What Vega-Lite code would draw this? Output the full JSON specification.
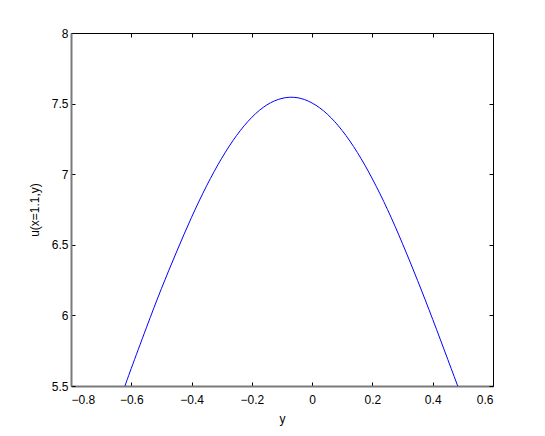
{
  "$schema": "https://vega.github.io/schema/vega-lite/v6.json",
  "width": 422,
  "height": 353,
  "autosize": {"type": "none"},
  "padding": {"left": 71, "top": 33, "right": 52, "bottom": 50},
  "background": "white",
  "config": {
    "view": {"stroke": null},
    "font": "Liberation Sans",
    "axis": {
      "grid": false,
      "labelFont": "Liberation Sans",
      "labelFontSize": 12,
      "labelColor": "black",
      "titleFont": "Liberation Sans",
      "titleFontSize": 12,
      "titleFontWeight": "normal",
      "titleColor": "black",
      "tickColor": "black",
      "tickSize": -4,
      "tickWidth": 1,
      "domainColor": "#7a7a7a",
      "domainWidth": 2
    }
  },
  "data": {
    "values": [
      {"y": -0.625, "u": 5.477},
      {"y": -0.6, "u": 5.625},
      {"y": -0.55, "u": 5.912},
      {"y": -0.5, "u": 6.19},
      {"y": -0.45, "u": 6.449},
      {"y": -0.4, "u": 6.695},
      {"y": -0.35, "u": 6.918},
      {"y": -0.3, "u": 7.113},
      {"y": -0.25, "u": 7.276},
      {"y": -0.2, "u": 7.403},
      {"y": -0.15, "u": 7.491},
      {"y": -0.1, "u": 7.537},
      {"y": -0.05, "u": 7.542},
      {"y": 0.0, "u": 7.504},
      {"y": 0.05, "u": 7.426},
      {"y": 0.1, "u": 7.308},
      {"y": 0.15, "u": 7.154},
      {"y": 0.2, "u": 6.966},
      {"y": 0.25, "u": 6.75},
      {"y": 0.3, "u": 6.507},
      {"y": 0.35, "u": 6.246},
      {"y": 0.4, "u": 5.972},
      {"y": 0.45, "u": 5.688},
      {"y": 0.49, "u": 5.46}
    ]
  },
  "layer": [
    {
      "mark": {"type": "line", "color": "#0000ff", "strokeWidth": 1, "interpolate": "natural", "clip": true},
      "encoding": {
        "x": {
          "field": "y", "type": "quantitative",
          "scale": {"domain": [-0.8, 0.6], "nice": false, "zero": false},
          "axis": {"title": "y", "values": [-0.8, -0.6, -0.4, -0.2, 0, 0.2, 0.4, 0.6], "labelExpr": "datum.value < 0 ? '\u2212' + format(-datum.value, '~g') : format(datum.value, '~g')", "labelPadding": 12, "titlePadding": 8}
        },
        "y": {
          "field": "u", "type": "quantitative",
          "scale": {"domain": [5.5, 8], "nice": false, "zero": false},
          "axis": {"title": "u(x=1.1,y)", "values": [5.5, 6, 6.5, 7, 7.5, 8], "format": "~g", "labelPadding": 7, "titlePadding": 10}
        }
      }
    },
    {
      "mark": {"type": "line", "strokeOpacity": 0},
      "encoding": {
        "x": {
          "field": "y", "type": "quantitative",
          "scale": {"domain": [-0.8, 0.6], "nice": false, "zero": false},
          "axis": {"orient": "top", "title": null, "labels": false, "values": [-0.8, -0.6, -0.4, -0.2, 0, 0.2, 0.4, 0.6], "domainColor": "black", "domainWidth": 1}
        },
        "y": {
          "field": "u", "type": "quantitative",
          "scale": {"domain": [5.5, 8], "nice": false, "zero": false},
          "axis": {"orient": "right", "title": null, "labels": false, "values": [5.5, 6, 6.5, 7, 7.5, 8], "domainColor": "black", "domainWidth": 1}
        }
      }
    }
  ],
  "resolve": {"axis": {"x": "independent", "y": "independent"}}
}
